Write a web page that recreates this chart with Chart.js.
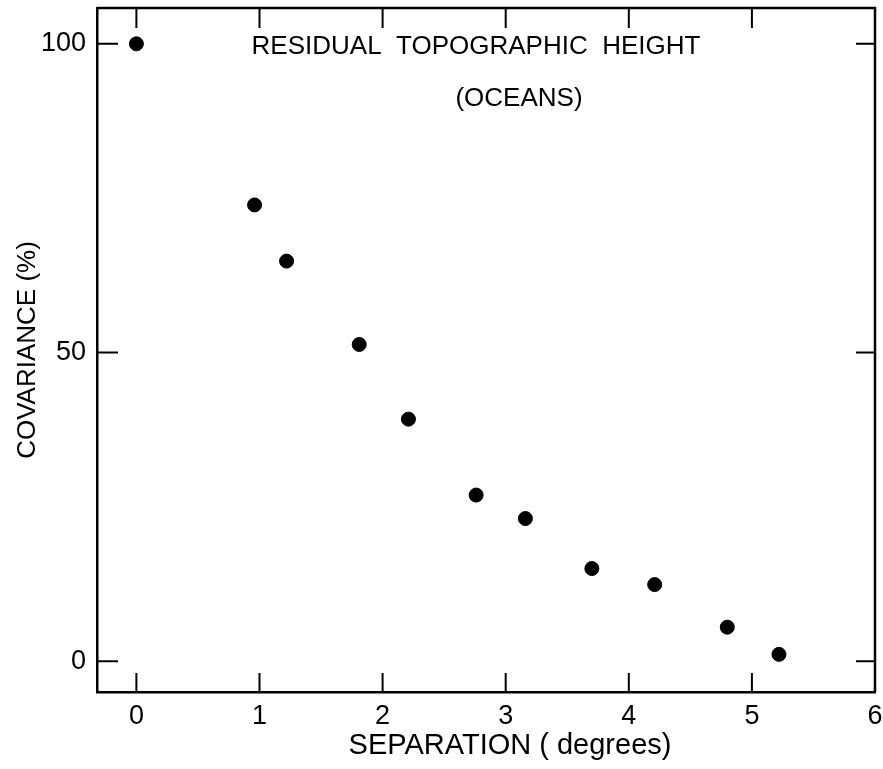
<!DOCTYPE html>
<html>
<head>
<meta charset="utf-8">
<script src="https://cdn.jsdelivr.net/npm/chart.js@4"></script>
<style>
  html, body { margin: 0; padding: 0; background: #fff; }
  #wrap { width: 883px; height: 769px; }
</style>
</head>
<body>
<div id="wrap"><canvas id="myChart" width="883" height="769"></canvas></div>
<script>
// separation (degrees) vs covariance (%)
const separation = [0, 0.96, 1.22, 1.81, 2.21, 2.76, 3.16, 3.70, 4.21, 4.80, 5.22]
const covariance = [100, 73.9, 64.8, 51.3, 39.2, 26.9, 23.1, 15.0, 12.4, 5.5, 1.1]
const xTicks = [0, 1, 2, 3, 4, 5, 6]
const yTicks = [0, 50, 100]
const titleLines = ['RESIDUAL  TOPOGRAPHIC  HEIGHT', '(OCEANS)']
const xTitle = 'SEPARATION ( degrees)'

const FONT = "'Liberation Sans', Arial, sans-serif"

// no extra room for the end tick labels, the frame sits at fixed edges
function noPad(s) {
    s.paddingTop = 0; s.paddingBottom = 0; s.paddingLeft = 0; s.paddingRight = 0
}

// inward tick marks on all four sides, the top/right frame and the texts
const framePlugin = {
    id: 'frame',
    afterDraw(chart) {
        const ctx = chart.ctx
        const {left, right, top, bottom} = chart.chartArea
        const xs = chart.scales.x, ys = chart.scales.y
        ctx.save()
        ctx.strokeStyle = '#000'
        ctx.lineWidth = 2.5
        ctx.beginPath()
        ctx.moveTo(left, top); ctx.lineTo(right, top); ctx.lineTo(right, bottom)
        ctx.stroke()
        ctx.lineWidth = 2
        xTicks.filter(v => v < 6).forEach(v => {
            const px = xs.getPixelForValue(v)
            ctx.beginPath()
            ctx.moveTo(px, bottom); ctx.lineTo(px, bottom - 19)
            ctx.moveTo(px, top); ctx.lineTo(px, top + 20)
            ctx.stroke()
        })
        yTicks.forEach(v => {
            const py = ys.getPixelForValue(v)
            ctx.beginPath()
            ctx.moveTo(left, py); ctx.lineTo(left + 21, py)
            ctx.moveTo(right, py); ctx.lineTo(right - 19, py)
            ctx.stroke()
        })
        ctx.fillStyle = '#000'
        ctx.textAlign = 'center'
        ctx.textBaseline = 'middle'
        ctx.font = '26px ' + FONT
        ctx.fillText(titleLines[0], 476, 47)
        ctx.fillText(titleLines[1], 519, 99)
        ctx.font = '29px ' + FONT
        ctx.fillText(xTitle, 510, 746)
        ctx.restore()
    }
}

const data = {
    datasets: [{
        label: 'Covariance',
        data: separation.map((x, i) => ({x: x, y: covariance[i]})),
        backgroundColor: '#000',
        borderColor: '#000',
        pointRadius: 7,
        pointHoverRadius: 7,
        showLine: false
    }]
}

const config = {
    type: 'scatter',
    data,
    options: {
        responsive: false,
        animation: false,
        layout: {padding: {left: 0, right: 6, top: 5, bottom: 0}},
        plugins: {legend: {display: false}, tooltip: {enabled: false}},
        scales: {
            x: {
                type: 'linear',
                min: -0.32,
                max: 6,
                afterBuildTicks: s => { s.ticks = xTicks.map(v => ({value: v})) },
                afterFit: s => { s.height = 77; noPad(s) },
                grid: {display: false, drawTicks: false},
                border: {display: true, color: '#000', width: 2.5},
                ticks: {
                    color: '#000',
                    font: {family: FONT, size: 27},
                    padding: 8,
                    maxRotation: 0,
                    callback: v => String(v)
                }
            },
            y: {
                type: 'linear',
                min: -5,
                max: 105.8,
                afterBuildTicks: s => { s.ticks = yTicks.map(v => ({value: v})) },
                afterFit: s => { s.width = 97; noPad(s) },
                grid: {display: false, drawTicks: false},
                border: {display: true, color: '#000', width: 2.5},
                ticks: {
                    color: '#000',
                    font: {family: FONT, size: 27},
                    padding: 11,
                    callback: v => String(v)
                },
                title: {
                    display: true,
                    text: 'COVARIANCE (%)',
                    color: '#000',
                    font: {family: FONT, size: 26},
                    padding: {top: 12, bottom: 0}
                }
            }
        }
    },
    plugins: [framePlugin]
}

const myChart = new Chart(document.getElementById('myChart'), config)
</script>
</body>
</html>
